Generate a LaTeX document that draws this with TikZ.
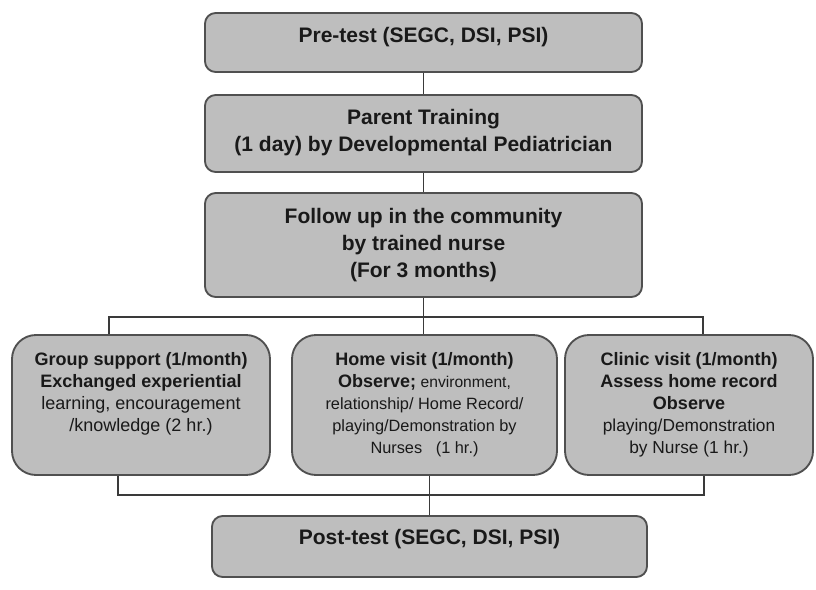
\documentclass[tikz,border=0pt]{standalone}
\usepackage{fontspec}
\setmainfont{Liberation Sans}
\definecolor{boxgray}{HTML}{BEBEBE}
\definecolor{edgegray}{HTML}{505050}
\definecolor{linegray}{HTML}{3A3A3A}
\newcommand\acthead[1]{{\fontsize{13.5}{16.5}\selectfont\bfseries #1}}
\begin{document}
\begin{tikzpicture}[x=0.75pt,y=-0.75pt,
  stage/.style={draw=edgegray, line width=1.4pt, fill=boxgray, rounded corners=8pt, align=center,
    text=black!90, minimum width=327.75pt, font=\fontsize{15.75}{20.5}\selectfont\bfseries},
  activity/.style={draw=edgegray, line width=1.4pt, fill=boxgray, rounded corners=18pt, align=center,
    text=black!90, minimum height=105pt, font=\fontsize{13.5}{16.5}\selectfont},
  link/.style={draw=linegray, line width=1.1pt}]
\useasboundingbox (0,0) rectangle (816,589);
\node[stage, minimum height=44.25pt, text depth=11.5pt] (pre) at (423.5,42.5) {Pre-test (SEGC, DSI, PSI)};
\node[stage, minimum height=57.75pt, text depth=5pt] (train) at (423.5,133.5) {Parent Training\\(1 day) by Developmental Pediatrician};
\node[stage, minimum height=78pt] (follow) at (423.5,245) {Follow up in the community\\by trained nurse\\(For 3 months)};
\node[activity, minimum width=193.5pt, text depth=20pt] (group) at (141,405) {\acthead{Group support (1/month)}\\\acthead{Exchanged experiential}\\learning, encouragement\\/knowledge (2 hr.)};
\node[activity, minimum width=198.75pt, font=\fontsize{12.25}{16.5}\selectfont] (home) at (424.5,405) {\acthead{Home visit (1/month)}\\\acthead{Observe;} {\fontsize{11.7}{16.5}\selectfont environment,}\\relationship/ Home Record/\\playing/Demonstration by\\Nurses\ \ \ (1 hr.)};
\node[activity, minimum width=186pt, font=\fontsize{13}{16.5}\selectfont] (clinic) at (689,405) {\acthead{Clinic visit (1/month)}\\\acthead{Assess home record}\\\acthead{Observe}\\playing/Demonstration\\by Nurse (1 hr.)};
\node[stage, minimum width=326.25pt, minimum height=45.75pt, text depth=14.5pt] (post) at (429.5,546.5) {Post-test (SEGC, DSI, PSI)};
\coordinate (splitL) at (109,317);
\coordinate (splitR) at (703,317);
\coordinate (joinL) at (118,495);
\coordinate (joinR) at (704,495);
\draw[link] (pre) -- (train);
\draw[link] (train) -- (follow);
\draw[link] (follow) -- (follow |- splitL);
\draw[link] (splitL |- group.north) -- (splitL) -- (splitR) -- (splitR |- clinic.north);
\draw[link] (follow |- splitL) -- (follow |- home.north);
\draw[link] (joinL |- group.south) -- (joinL) -- (joinR) -- (joinR |- clinic.south);
\draw[link] (post) -- (post |- home.south);
\end{tikzpicture}
\end{document}
